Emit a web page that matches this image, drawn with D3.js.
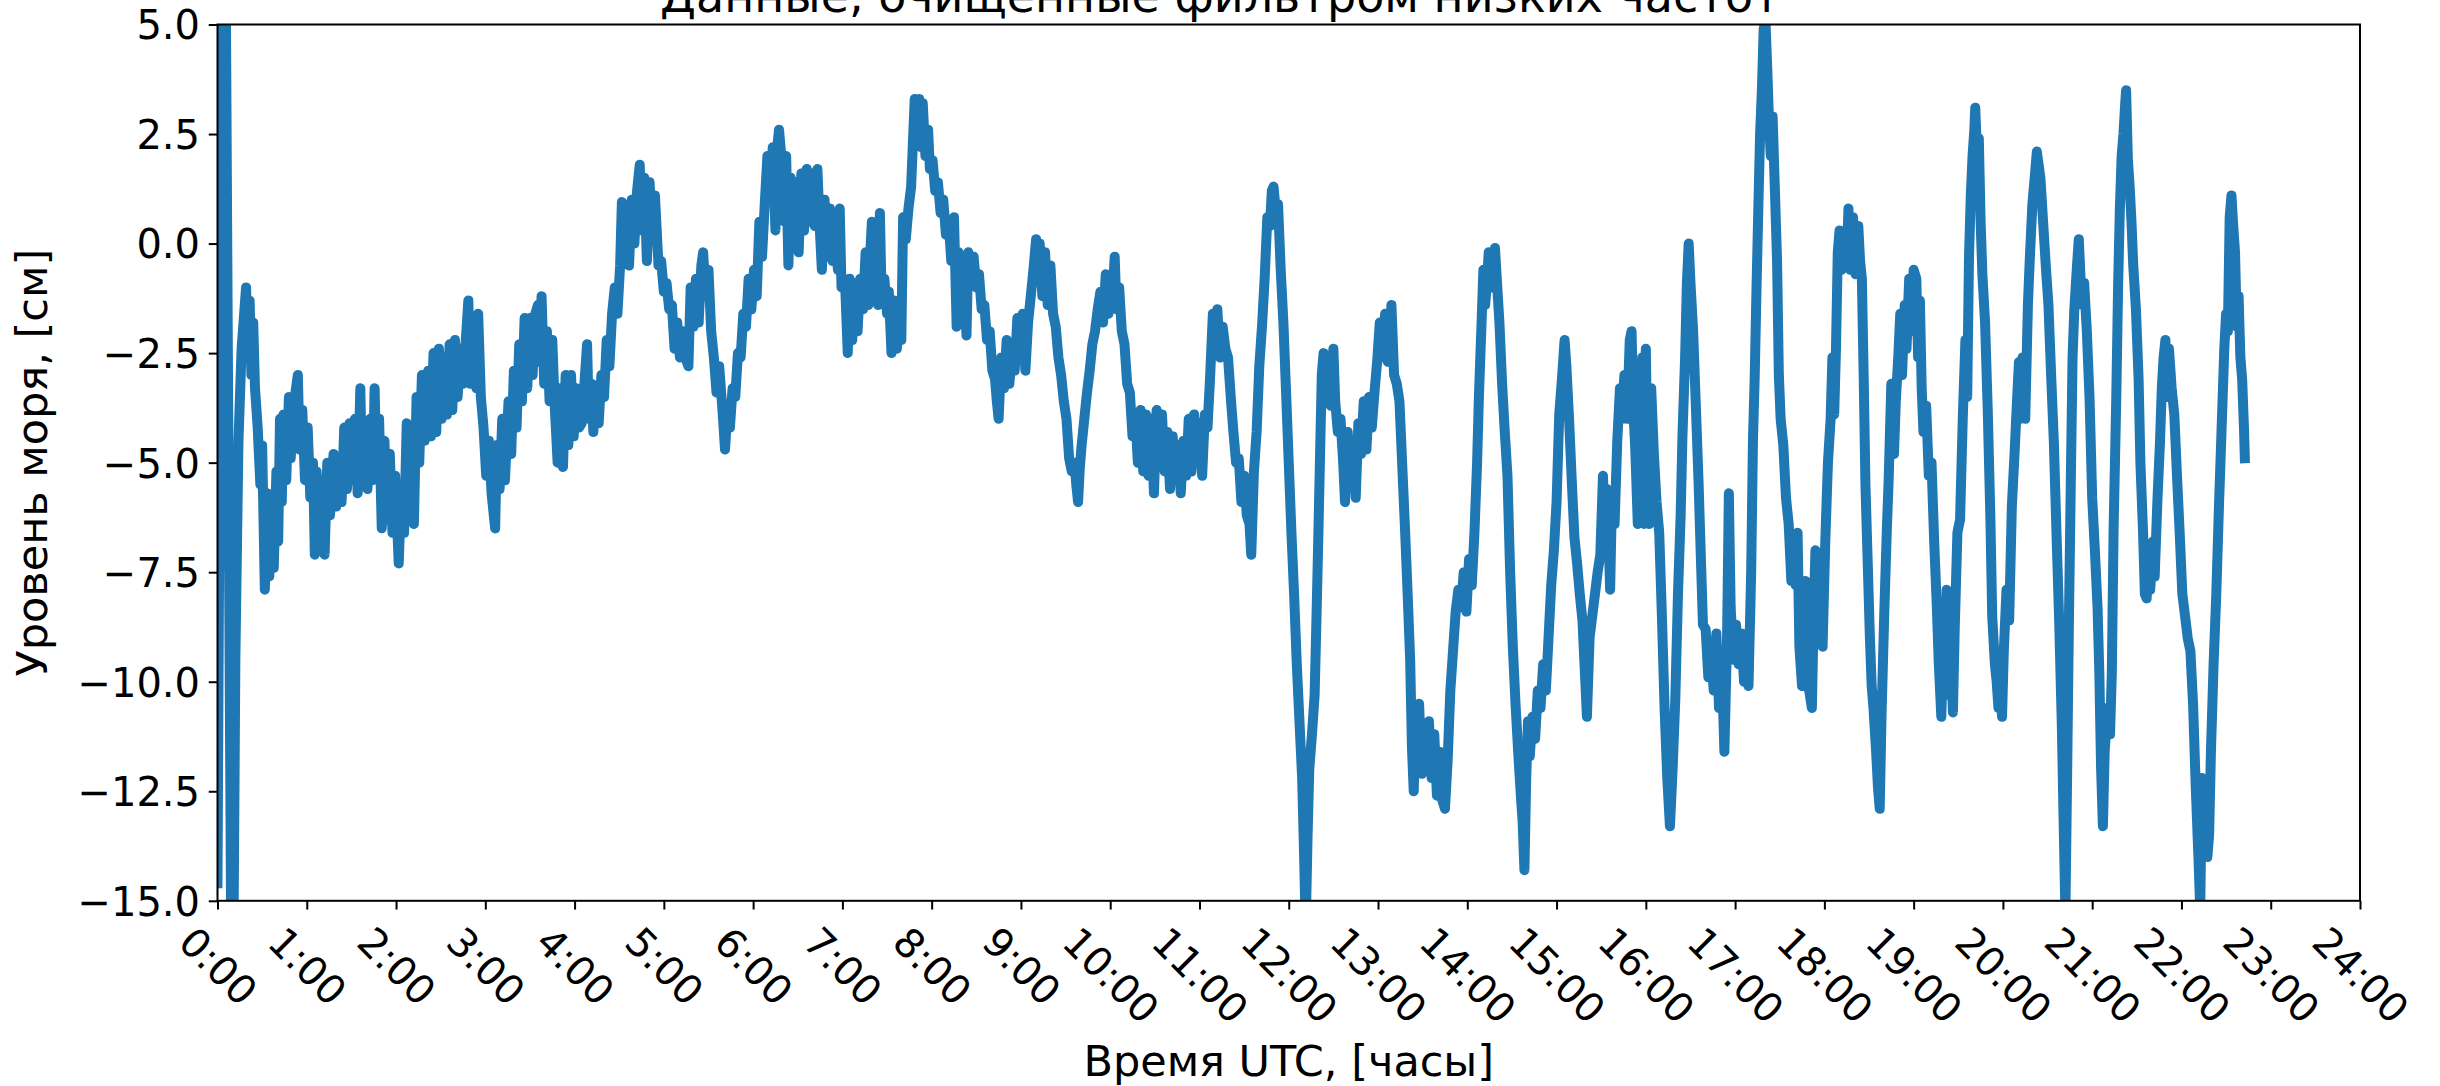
<!DOCTYPE html>
<html>
<head>
<meta charset="utf-8">
<script src="https://cdn.jsdelivr.net/npm/d3@7"></script>
<style>
html, body { margin: 0; padding: 0; background: #ffffff; }
svg { display: block; font-family: "DejaVu Sans", sans-serif; }
</style>
</head>
<body>
<svg id="chart" width="2440" height="1086"></svg>
<script>
// ---------- data (hours UTC, sea level in cm) ----------
const seaLevel = [
[0.00,-14.6],[0.07,14],[0.165,-20],[0.20,-9.5],[0.235,-4.5],[0.27,-2.4],[0.32,-1.0],[0.34,-2.5],[0.36,-1.3],[0.38,-3.0],
[0.40,-1.8],[0.42,-3.3],[0.45,-4.2],[0.48,-5.5],[0.50,-4.6],[0.53,-7.9],[0.56,-5.7],[0.58,-7.6],[0.60,-5.9],[0.63,-7.4],
[0.66,-5.2],[0.68,-6.8],[0.70,-4.0],[0.72,-5.9],[0.74,-3.9],[0.77,-5.4],[0.80,-3.5],[0.82,-4.9],[0.86,-3.6],[0.90,-3.0],
[0.92,-4.7],[0.95,-3.8],[0.98,-5.4],[1.01,-4.2],[1.04,-5.8],[1.07,-5.0],[1.09,-7.1],[1.11,-5.2],[1.14,-6.8],[1.17,-5.4],
[1.20,-7.1],[1.23,-5.0],[1.26,-6.2],[1.30,-4.8],[1.33,-6.0],[1.36,-5.0],[1.39,-5.9],[1.42,-4.2],[1.45,-5.6],[1.48,-4.1],
[1.51,-5.4],[1.54,-4.0],[1.57,-5.7],[1.60,-3.3],[1.62,-5.5],[1.65,-4.2],[1.68,-5.6],[1.71,-4.0],[1.74,-5.4],[1.76,-3.3],
[1.78,-5.2],[1.81,-4.0],[1.84,-6.5],[1.87,-4.5],[1.90,-6.3],[1.93,-4.8],[1.96,-6.6],[1.99,-5.3],[2.03,-7.3],[2.06,-5.5],
[2.09,-6.6],[2.12,-4.1],[2.14,-6.0],[2.17,-5.0],[2.20,-6.4],[2.23,-3.5],[2.26,-5.0],[2.29,-3.0],[2.32,-4.5],[2.36,-2.9],
[2.39,-4.4],[2.42,-2.5],[2.45,-4.3],[2.48,-2.4],[2.51,-4.0],[2.54,-2.6],[2.57,-3.9],[2.60,-2.3],[2.63,-3.8],[2.66,-2.2],
[2.69,-3.5],[2.72,-2.4],[2.75,-3.2],[2.81,-1.3],[2.83,-3.2],[2.87,-2.3],[2.90,-3.3],[2.92,-1.6],[2.95,-3.5],[2.98,-4.2],
[3.01,-5.3],[3.04,-4.5],[3.07,-5.7],[3.11,-6.5],[3.13,-4.6],[3.16,-5.6],[3.19,-4.0],[3.22,-5.4],[3.26,-3.6],[3.29,-4.8],
[3.32,-2.9],[3.35,-4.2],[3.38,-2.3],[3.41,-3.6],[3.44,-1.7],[3.47,-3.3],[3.50,-1.7],[3.53,-3.0],[3.56,-1.6],
[3.59,-1.4],[3.61,-2.7],[3.63,-1.2],[3.66,-3.2],[3.69,-2.0],[3.72,-3.6],[3.75,-2.2],[3.78,-3.8],[3.81,-5.0],[3.84,-3.3],
[3.87,-5.1],[3.90,-3.0],[3.93,-4.6],[3.96,-3.0],[3.99,-4.4],[4.02,-3.3],[4.05,-4.2],[4.08,-4.1],[4.11,-3.2],[4.14,-2.3],
[4.16,-4.0],[4.19,-3.2],[4.21,-4.3],[4.24,-3.3],[4.27,-4.1],[4.30,-3.0],[4.33,-3.5],[4.36,-2.2],[4.39,-2.8],[4.42,-1.6],
[4.45,-1.0],[4.48,-1.6],[4.51,-0.5],[4.53,0.95],[4.55,-0.4],[4.58,0.6],[4.61,-0.5],[4.64,1.0],[4.67,0.0],[4.70,1.2],
[4.73,1.8],[4.75,0.3],[4.78,1.5],[4.81,-0.4],[4.84,1.4],[4.87,0.2],[4.90,1.1],[4.94,-0.5],[4.97,-0.4],[5.00,-1.1],
[5.03,-0.9],[5.06,-1.5],[5.09,-1.4],[5.12,-2.4],[5.15,-1.8],[5.18,-2.6],[5.21,-2.0],[5.24,-2.6],[5.275,-2.8],[5.30,-1.0],
[5.33,-1.9],[5.36,-0.8],[5.39,-1.8],[5.42,-0.5],[5.44,-0.2],[5.47,-1.2],[5.50,-0.6],[5.53,-2.0],[5.56,-2.6],[5.59,-3.4],
[5.62,-2.8],[5.66,-3.9],[5.685,-4.7],[5.71,-3.9],[5.74,-4.2],[5.77,-3.3],[5.80,-3.5],[5.83,-2.5],[5.86,-2.6],[5.89,-1.6],
[5.92,-1.9],[5.95,-0.8],[5.98,-1.5],[6.01,-0.6],[6.04,-1.2],[6.07,0.5],[6.10,-0.3],[6.13,0.9],[6.16,2.0],[6.19,1.2],
[6.22,2.2],[6.25,0.3],[6.27,2.2],[6.29,2.6],[6.32,1.9],[6.35,0.5],[6.37,2.0],[6.395,-0.5],[6.42,1.5],[6.45,0.0],
[6.48,1.4],[6.51,-0.2],[6.54,1.6],[6.57,0.3],[6.60,1.7],[6.63,0.5],[6.66,1.6],[6.69,0.4],[6.72,1.7],[6.75,0.2],
[6.77,-0.6],[6.80,1.0],[6.83,-0.3],[6.86,0.8],[6.89,-0.4],[6.92,0.2],
[6.95,-0.6],[6.97,0.8],[6.99,-1.0],[7.03,-0.9],[7.06,-2.5],[7.08,-0.8],[7.11,-2.2],[7.14,-0.9],[7.17,-2.0],[7.20,-0.8],
[7.23,-1.5],[7.26,-0.2],[7.29,-1.4],[7.31,-0.3],[7.33,0.5],[7.35,-1.2],[7.38,-0.6],[7.40,-1.4],[7.42,0.7],[7.44,-1.3],
[7.47,-0.8],[7.50,-1.6],[7.52,-1.1],[7.55,-2.5],[7.58,-1.3],[7.61,-2.4],[7.64,-1.5],[7.66,-2.2],[7.68,0.6],[7.71,0.1],
[7.74,0.8],[7.77,1.3],[7.79,2.3],[7.81,3.3],[7.84,2.4],[7.86,3.3],[7.88,2.2],[7.90,3.2],[7.93,2.0],[7.96,2.6],
[7.98,1.7],[8.01,1.9],[8.04,1.2],[8.07,1.4],[8.10,0.7],[8.13,1.0],[8.16,0.2],[8.19,0.5],[8.22,-0.4],[8.25,0.6],
[8.28,-1.9],[8.30,-0.2],[8.33,-0.8],[8.36,-0.4],[8.39,-2.1],[8.41,-0.2],[8.44,-0.6],[8.47,-0.3],[8.50,-1.0],[8.53,-0.7],
[8.56,-1.5],[8.59,-1.4],[8.62,-2.2],[8.65,-2.0],[8.68,-2.9],[8.71,-3.1],[8.73,-3.6],[8.75,-4.0],[8.78,-2.6],[8.81,-3.3],
[8.84,-2.2],[8.87,-3.2],[8.90,-2.5],[8.93,-2.9],[8.96,-1.7],[8.99,-2.6],[9.02,-1.6],[9.05,-2.9],[9.08,-1.8],[9.11,-1.2],
[9.14,-0.6],[9.17,0.1],[9.19,-0.8],[9.21,0.0],[9.24,-1.2],[9.27,-0.2],[9.30,-1.4],[9.33,-0.5],[9.36,-1.6],[9.39,-1.9],
[9.42,-2.6],[9.45,-3.0],[9.48,-3.6],[9.51,-4.0],[9.54,-4.9],[9.57,-5.2],[9.60,-5.0],[9.62,-5.5],[9.64,-5.9],[9.66,-5.1],
[9.68,-4.6],[9.71,-4.0],[9.74,-3.4],[9.77,-2.9],[9.80,-2.3],[9.83,-2.0],[9.86,-1.5],[9.89,-1.1],[9.92,-1.8],[9.95,-0.7],
[9.98,-1.6],[10.01,-0.7],[10.03,-1.1],[10.05,-0.3],[10.07,-1.5],[10.10,-1.0],[10.13,-2.0],[10.16,-2.3],[10.19,-3.2],[10.22,-3.4],
[10.25,-4.4],[10.28,-3.9],[10.31,-5.0],[10.34,-3.8],[10.37,-5.2],[10.40,-3.9],[10.43,-5.3],[10.46,-4.0],[10.49,-5.7],
[10.52,-3.8],[10.55,-4.7],[10.58,-3.9],[10.61,-5.2],[10.64,-4.3],[10.67,-5.6],[10.70,-4.4],[10.73,-5.4],[10.76,-4.6],[10.79,-5.7],
[10.82,-4.5],[10.85,-5.3],[10.88,-4.0],[10.91,-5.2],[10.94,-3.9],[10.97,-5.0],[11.00,-4.1],[11.03,-5.3],[11.06,-3.9],[11.09,-4.2],
[11.12,-3.0],[11.15,-1.6],[11.18,-2.3],[11.20,-1.5],[11.23,-2.6],[11.26,-1.9],[11.29,-2.4],[11.32,-2.6],[11.35,-3.5],[11.38,-4.3],
[11.41,-5.0],[11.44,-4.9],[11.47,-5.9],[11.50,-5.3],[11.53,-6.2],[11.56,-6.4],[11.58,-7.1],[11.61,-5.2],[11.64,-4.3],[11.67,-2.8],
[11.70,-1.9],[11.73,-0.8],[11.76,0.6],[11.79,0.4],[11.81,1.2],[11.83,1.3],[11.86,0.6],[11.88,0.9],[11.91,-0.6],[11.94,-1.8],
[11.97,-3.4],[12.00,-5.0],[12.03,-6.6],[12.06,-8.0],[12.09,-9.6],[12.12,-10.9],[12.15,-12.2],[12.17,-13.8],[12.19,-15.6],[12.21,-13.6],
[12.23,-12.0],[12.26,-11.2],[12.29,-10.3],[12.31,-8.6],[12.33,-6.8],[12.35,-4.9],[12.37,-3.0],[12.39,-2.5],[12.41,-3.4],[12.44,-2.9],
[12.47,-3.7],[12.50,-2.4],[12.52,-3.6],[12.55,-4.3],[12.58,-4.0],[12.61,-5.0],[12.63,-5.9],[12.66,-4.3],[12.69,-5.4],[12.72,-4.5],
[12.75,-5.8],[12.78,-4.1],[12.81,-4.8],[12.84,-3.6],[12.87,-4.7],[12.90,-3.5],[12.93,-4.2],[12.96,-3.4],[12.99,-2.7],[13.02,-1.8],
[13.05,-2.6],[13.08,-1.6],[13.11,-2.7],[13.13,-2.2],[13.15,-1.4],[13.18,-3.0],[13.21,-3.2],[13.24,-3.6],[13.27,-5.0],[13.30,-6.4],
[13.33,-7.9],[13.36,-9.5],[13.38,-11.5],[13.40,-12.5],[13.42,-10.8],[13.44,-12.0],[13.46,-10.5],[13.49,-12.1],[13.51,-11.2],[13.54,-11.9],
[13.57,-10.9],[13.60,-12.2],[13.63,-11.2],[13.66,-12.6],[13.69,-11.6],[13.72,-12.7],[13.75,-12.9],[13.78,-11.8],[13.81,-10.2],[13.84,-9.3],
[13.87,-8.4],[13.90,-7.9],[13.93,-8.3],[13.96,-7.5],
[13.99,-8.4],[14.02,-7.2],[14.05,-7.8],[14.08,-6.6],[14.11,-5.0],[14.13,-3.5],[14.16,-1.8],[14.18,-0.6],[14.20,-1.4],[14.22,-0.9],
[14.24,-0.2],[14.26,-1.0],[14.29,-0.4],[14.31,-0.1],[14.33,-0.8],[14.36,-1.8],[14.39,-3.2],[14.42,-4.3],[14.45,-5.3],[14.48,-7.5],
[14.51,-9.2],[14.54,-10.5],[14.57,-11.6],[14.60,-12.6],[14.62,-13.2],[14.64,-14.3],[14.66,-12.2],[14.68,-10.9],[14.70,-11.7],[14.73,-10.8],
[14.76,-11.3],[14.79,-10.2],[14.82,-10.6],[14.85,-9.6],[14.88,-10.2],[14.91,-9.0],[14.94,-7.8],[14.97,-7.0],[15.00,-5.9],[15.03,-3.9],
[15.06,-3.1],[15.09,-2.2],[15.11,-2.8],[15.14,-4.0],[15.17,-5.4],[15.20,-6.7],[15.23,-7.3],[15.26,-8.0],[15.29,-8.6],[15.32,-9.9],
[15.34,-10.8],[15.37,-9.0],[15.40,-8.5],[15.43,-8.0],[15.46,-7.5],[15.49,-7.1],[15.52,-5.3],[15.54,-7.0],[15.56,-5.6],[15.58,-6.5],
[15.60,-7.9],[15.62,-5.9],[15.65,-6.4],[15.68,-4.5],[15.71,-3.3],[15.73,-4.0],[15.76,-3.0],[15.79,-4.0],[15.82,-2.2],[15.84,-2.0],
[15.86,-3.8],[15.88,-4.6],[15.91,-6.4],[15.93,-5.0],[15.96,-2.6],[15.98,-6.4],[16.00,-2.4],[16.02,-5.3],[16.04,-6.4],[16.06,-3.3],
[16.09,-4.8],[16.12,-5.9],[16.15,-6.6],[16.18,-8.5],[16.21,-10.6],[16.24,-12.2],[16.27,-13.3],[16.30,-12.0],[16.33,-10.4],[16.36,-8.0],
[16.39,-6.2],[16.41,-4.4],[16.44,-2.6],[16.46,-0.9],[16.48,0.0],[16.50,-0.9],[16.53,-2.0],[16.56,-3.7],[16.59,-5.4],[16.62,-7.4],
[16.64,-8.7],[16.67,-8.8],[16.70,-9.9],[16.73,-9.2],[16.76,-10.2],[16.79,-8.9],[16.82,-10.6],[16.85,-9.5],[16.88,-11.6],[16.91,-9.0],
[16.93,-5.7],[16.95,-8.3],[16.98,-9.5],[17.01,-8.7],[17.04,-9.6],[17.07,-8.9],[17.10,-10.0],[17.13,-9.1],[17.15,-10.1],[17.18,-7.5],
[17.20,-4.5],[17.22,-3.0],[17.24,-1.0],[17.26,0.8],[17.28,2.5],[17.30,3.5],[17.32,4.9],[17.34,5.1],[17.36,4.0],[17.38,2.8],
[17.40,2.0],[17.42,2.9],[17.44,1.6],[17.47,-0.4],[17.49,-3.0],[17.51,-4.0],[17.54,-4.6],[17.57,-5.8],[17.60,-6.4],[17.63,-7.7],
[17.65,-6.8],[17.68,-7.8],[17.70,-6.6],[17.72,-9.2],[17.75,-10.1],[17.77,-9.5],[17.79,-7.7],[17.81,-9.6],[17.83,-10.2],[17.86,-10.6],
[17.88,-8.5],[17.90,-7.0],[17.92,-9.0],[17.95,-7.9],[17.98,-9.2],[18.01,-6.8],[18.04,-5.0],[18.07,-4.0],[18.09,-2.6],[18.11,-3.9],
[18.13,-2.4],[18.15,-0.2],[18.17,0.3],[18.19,-0.6],[18.22,0.2],[18.25,-0.4],[18.27,0.8],[18.29,-0.6],[18.32,0.6],[18.35,-0.7],
[18.38,0.4],[18.40,-0.4],[18.42,-0.8],[18.44,-3.0],[18.46,-5.5],[18.48,-6.9],[18.51,-9.0],[18.53,-10.1],[18.55,-10.6],[18.58,-11.6],
[18.60,-12.4],[18.62,-12.9],[18.64,-10.8],[18.67,-8.5],[18.70,-6.5],[18.72,-5.4],[18.75,-3.2],[18.78,-4.8],[18.80,-3.6],[18.83,-2.5],
[18.85,-1.6],[18.87,-3.0],[18.90,-1.4],[18.92,-2.4],[18.95,-0.8],[18.97,-2.0],[19.00,-0.6],[19.03,-0.8],[19.05,-2.6],[19.07,-1.3],
[19.09,-3.3],[19.11,-4.3],[19.14,-3.7],[19.17,-5.3],[19.20,-5.0],[19.23,-6.8],[19.26,-8.3],[19.28,-9.5],[19.31,-10.8],[19.33,-9.2],
[19.35,-10.1],[19.37,-7.9],[19.39,-10.3],[19.41,-9.0],[19.44,-10.7],[19.46,-8.8],[19.49,-6.6],[19.52,-6.3],[19.55,-4.0],[19.58,-2.2],
[19.60,-3.5],[19.62,-0.3],[19.64,1.1],[19.66,2.0],[19.68,2.6],[19.69,3.1],[19.71,2.0],[19.73,2.4],[19.75,0.5],[19.77,-0.7],
[19.80,-1.8],[19.83,-3.8],[19.86,-6.3],[19.88,-8.5],[19.91,-9.6],[19.93,-10.0],[19.95,-10.6],[19.97,-9.8],[19.99,-10.8],[20.01,-9.3],
[20.04,-7.9],[20.07,-8.6],[20.10,-6.0],[20.13,-4.8],[20.16,-3.5],[20.18,-2.7],[20.20,-4.0],[20.22,-2.6],[20.25,-4.0],[20.28,-1.4],
[20.30,-0.4],[20.33,0.9],[20.36,1.6],[20.38,2.1],[20.40,1.8],[20.42,1.5],[20.45,0.5],[20.48,-0.5],[20.51,-1.4],[20.54,-3.0],
[20.57,-4.5],[20.60,-6.6],[20.63,-8.6],[20.66,-11.0],[20.68,-13.2],[20.70,-15.3],[20.72,-12.0],[20.74,-8.5],[20.76,-5.5],[20.78,-2.6],
[20.80,-1.5],[20.83,-0.5],[20.85,0.1],[20.87,-0.8],[20.89,-1.4],[20.91,-0.9],
[20.94,-2.0],[20.97,-3.5],[21.00,-5.8],[21.03,-7.0],[21.06,-8.3],[21.08,-9.8],[21.10,-12.0],[21.12,-13.3],[21.14,-11.6],[21.17,-10.6],
[21.20,-11.2],[21.22,-9.8],[21.24,-6.5],[21.27,-3.5],[21.29,-1.0],[21.31,0.8],[21.33,2.0],[21.35,2.5],[21.37,3.2],[21.38,3.5],
[21.40,1.9],[21.42,1.3],[21.44,0.5],[21.46,-0.5],[21.49,-1.5],[21.52,-3.1],[21.54,-5.0],[21.57,-6.6],[21.59,-8.0],[21.61,-8.1],
[21.63,-7.3],[21.65,-7.9],[21.68,-6.8],[21.70,-7.6],[21.73,-5.9],[21.76,-4.5],[21.78,-3.3],[21.80,-2.6],[21.82,-2.2],[21.84,-3.5],
[21.86,-2.4],[21.89,-3.3],[21.92,-3.9],[21.95,-5.3],[21.98,-6.6],[22.01,-8.0],[22.04,-8.5],[22.07,-9.0],[22.10,-9.3],[22.13,-10.5],
[22.16,-12.4],[22.19,-14.0],[22.21,-15.2],[22.23,-12.2],[22.25,-13.8],[22.27,-12.3],[22.29,-14.0],[22.31,-13.5],[22.33,-11.6],[22.36,-9.6],
[22.39,-8.0],[22.42,-6.0],[22.45,-4.2],[22.48,-2.4],[22.50,-1.6],[22.52,-2.0],[22.54,0.6],[22.56,1.1],[22.58,0.4],[22.60,-0.2],
[22.62,-1.9],[22.64,-1.2],[22.66,-2.6],[22.68,-3.1],[22.70,-4.2],[22.71,-4.9]
];

const xTickHours  = [0,1,2,3,4,5,6,7,8,9,10,11,12,13,14,15,16,17,18,19,20,21,22,23,24];
const xTickLabels = ["0:00","1:00","2:00","3:00","4:00","5:00","6:00","7:00","8:00","9:00","10:00","11:00","12:00",
                     "13:00","14:00","15:00","16:00","17:00","18:00","19:00","20:00","21:00","22:00","23:00","24:00"];
const yTickValues = [5, 2.5, 0, -2.5, -5, -7.5, -10, -12.5, -15];
const yTickLabels = ["5.0","2.5","0.0","\u22122.5","\u22125.0","\u22127.5","\u221210.0","\u221212.5","\u221215.0"];
const titleText  = "Данные, очищенные фильтром низких частот";
const xLabelText = "Время UTC, [часы]";
const yLabelText = "Уровень моря, [см]";

// ---------- layout ----------
const W = 2440;
const plotLeft = 217.5, plotRight = 2360, plotTop = 24.5, plotBottom = 900.8;
const tickFont = 40, labelFont = 43, titleFont = 46;
const tickLen = 8.75, tickPad = 8.75;
const lineColor = "#1f77b4";

const svg = d3.select("#chart");
const x = d3.scaleLinear().domain([0, 24]).range([plotLeft, plotRight]);
const y = d3.scaleLinear().domain([-15, 5]).range([plotBottom, plotTop]);

svg.append("defs").append("clipPath").attr("id", "plotClip")
  .append("rect")
  .attr("x", plotLeft).attr("y", plotTop)
  .attr("width", plotRight - plotLeft).attr("height", plotBottom - plotTop);

// line
const line = d3.line().x(d => x(d[0])).y(d => y(d[1]));
svg.append("path")
  .datum(seaLevel)
  .attr("clip-path", "url(#plotClip)")
  .attr("fill", "none")
  .attr("stroke", lineColor)
  .attr("stroke-width", 10)
  .attr("stroke-linejoin", "round")
  .attr("stroke-linecap", "square")
  .attr("d", line);

// x axis
const xAxis = d3.axisBottom(x)
  .tickValues(xTickHours)
  .tickFormat((d, i) => xTickLabels[i])
  .tickSizeInner(tickLen).tickSizeOuter(0).tickPadding(tickPad);
const gx = svg.append("g").attr("transform", `translate(0,${plotBottom})`).call(xAxis);
gx.select(".domain").remove();
gx.selectAll(".tick line").attr("stroke", "#000").attr("stroke-width", 2);
gx.selectAll(".tick text")
  .attr("font-size", tickFont)
  .attr("font-family", "DejaVu Sans, sans-serif")
  .attr("fill", "#000")
  .each(function () {
    const t = d3.select(this);
    t.attr("dy", null).attr("x", 0).attr("text-anchor", "middle");
    const w = this.getComputedTextLength();
    const h = 1.164 * tickFont;
    const rh = (w + h) * Math.SQRT1_2;
    const cy = tickLen + tickPad + rh / 2;
    t.attr("y", 0.346 * tickFont)
     .attr("transform", `translate(0,${cy}) rotate(45)`);
  });

// y axis
const yAxis = d3.axisLeft(y)
  .tickValues(yTickValues)
  .tickFormat((d, i) => yTickLabels[i])
  .tickSizeInner(tickLen).tickSizeOuter(0).tickPadding(tickPad);
const gy = svg.append("g").attr("transform", `translate(${plotLeft},0)`).call(yAxis);
gy.select(".domain").remove();
gy.selectAll(".tick line").attr("stroke", "#000").attr("stroke-width", 2);
gy.selectAll(".tick text")
  .attr("font-size", tickFont)
  .attr("font-family", "DejaVu Sans, sans-serif")
  .attr("fill", "#000")
  .attr("dy", "0.36em");

// spines
svg.append("rect")
  .attr("x", plotLeft).attr("y", plotTop)
  .attr("width", plotRight - plotLeft).attr("height", plotBottom - plotTop)
  .attr("fill", "none").attr("stroke", "#000").attr("stroke-width", 2);

// title and axis labels
svg.append("text")
  .attr("x", W / 2).attr("y", 12)
  .attr("text-anchor", "middle").attr("font-size", titleFont).attr("fill", "#000")
  .text(titleText);

svg.append("text")
  .attr("x", (plotLeft + plotRight) / 2).attr("y", 1076)
  .attr("text-anchor", "middle").attr("font-size", labelFont).attr("fill", "#000")
  .text(xLabelText);

svg.append("text")
  .attr("transform", `translate(47,${(plotTop + plotBottom) / 2}) rotate(-90)`)
  .attr("text-anchor", "middle").attr("font-size", labelFont).attr("fill", "#000")
  .text(yLabelText);
</script>
</body>
</html>
